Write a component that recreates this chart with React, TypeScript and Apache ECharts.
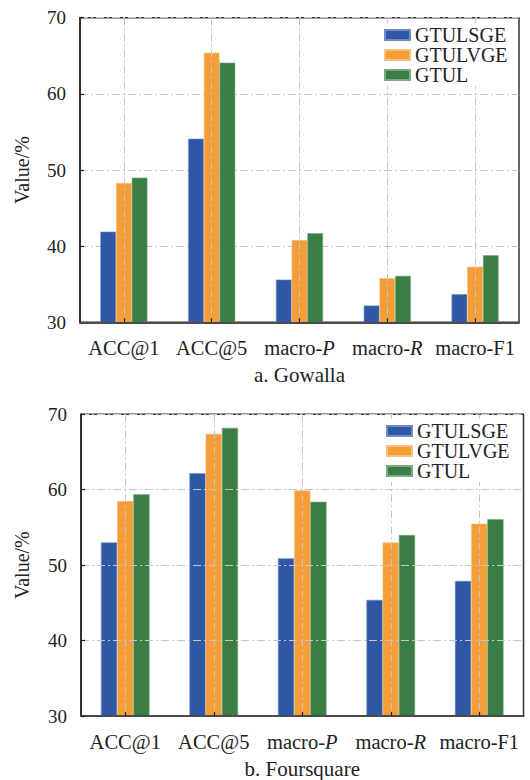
import React, { useEffect, useRef } from "react";
import * as echarts from "echarts";

const categories = ["ACC@1", "ACC@5", "macro-P", "macro-R", "macro-F1"];
const seriesNames = ["GTULSGE", "GTULVGE", "GTUL"];

const gowallaGTULSGE = [41.9, 54.1, 35.6, 32.2, 33.7];
const gowallaGTULVGE = [48.3, 65.4, 40.8, 35.8, 37.3];
const gowallaGTUL = [49.0, 64.1, 41.7, 36.1, 38.8];

const foursquareGTULSGE = [53.0, 62.2, 50.9, 45.4, 47.9];
const foursquareGTULVGE = [58.5, 67.4, 59.9, 53.0, 55.5];
const foursquareGTUL = [59.4, 68.2, 58.4, 54.0, 56.1];

const yMin = 30;
const yMax = 70;
const yInterval = 10;

const captions = ["a. Gowalla", "b. Foursquare"];
const yName = "Value/%";

const colors = ["#2e57a5", "#f59d37", "#3a7e46"];
const borderColors = ["#6f8cc6", "#f9c07e", "#7aab82"];
const FONT = "Liberation Serif";
const TEXT = "#222";

const gridStyle = {
  color: "#c6c6c6",
  width: 1,
  type: [8, 3, 2, 3] as any,
};

function catFormatter(v: string) {
  const m = /^macro-([PR])$/.exec(v);
  if (m) return "{r|macro-}{i|" + m[1] + "}";
  return "{r|" + v + "}";
}

export default function App() {
  const ref = useRef<HTMLDivElement>(null);
  useEffect(() => {
    if (!ref.current) return;
    const chart = echarts.init(ref.current, undefined, { renderer: "svg" });
    const grids = [
      { left: 80, right: 11, top: 17.7, height: 304.6, barW: 15.7, yGap: 48, capGap: 42.5, hAbove: false },
      { left: 81, right: 6.5, top: 414.3, height: 304, barW: 16.2, yGap: 49, capGap: 42, hAbove: true },
    ];
    const data = [
      [gowallaGTULSGE, gowallaGTULVGE, gowallaGTUL],
      [foursquareGTULSGE, foursquareGTULVGE, foursquareGTUL],
    ];
    const legendPos = [
      { left: 380, top: 23 },
      { left: 382, top: 419 },
    ];
    const option: any = {
      animation: false,
      textStyle: { fontFamily: FONT },
      grid: grids.map((g) => ({
        left: g.left,
        right: g.right,
        top: g.top,
        height: g.height,
        show: true,
        borderColor: "#333",
        borderWidth: 1.5,
        backgroundColor: "transparent",
      })),
      legend: legendPos.map((p) => ({
        data: seriesNames,
        left: p.left,
        top: p.top,
        orient: "vertical",
        itemWidth: 25,
        itemHeight: 10,
        itemGap: 0,
        icon: "rect",
        selectedMode: false,
        padding: [2, 4, 1, 4],
        backgroundColor: "#ffffff",
        textStyle: { fontFamily: FONT, fontSize: 20, lineHeight: 19, color: TEXT },
      })),
      xAxis: grids.map((g, i) => ({
        type: "category",
        gridIndex: i,
        data: categories,
        boundaryGap: true,
        z: 3,
        name: captions[i],
        nameLocation: "middle",
        nameGap: g.capGap,
        nameTextStyle: { fontFamily: FONT, fontSize: 21, color: TEXT },
        axisLine: { show: true, lineStyle: { color: "#4a4a4a", width: 2 } },
        axisTick: { show: true, inside: true, alignWithLabel: true, length: 4, lineStyle: { color: "#222", width: 1.2 } },
        axisLabel: {
          interval: 0,
          margin: 15,
          fontFamily: FONT,
          formatter: catFormatter,
          rich: {
            r: { fontFamily: FONT, fontSize: 20.5, color: TEXT },
            i: { fontFamily: FONT, fontSize: 20.5, color: TEXT, fontStyle: "italic" },
          },
        },
        splitLine: { show: true, interval: 0, alignWithLabel: true, lineStyle: gridStyle },
      })),
      yAxis: grids.map((g, i) => ({
        type: "value",
        gridIndex: i,
        min: yMin,
        max: yMax,
        interval: yInterval,
        z: g.hAbove ? 3 : 0,
        name: yName,
        nameLocation: "middle",
        nameGap: g.yGap,
        nameTextStyle: { fontFamily: FONT, fontSize: 20, color: TEXT },
        axisLine: { show: true, lineStyle: { color: "#222", width: 1.5 } },
        axisTick: { show: true, inside: true, length: 4, lineStyle: { color: "#222", width: 1.2 } },
        axisLabel: { margin: 14, fontFamily: FONT, fontSize: 19, color: TEXT },
        splitLine: { show: true, lineStyle: gridStyle },
      })),
      series: grids.flatMap((g, gi) =>
        seriesNames.map((name, si) => ({
          type: "bar",
          name,
          xAxisIndex: gi,
          yAxisIndex: gi,
          data: data[gi][si],
          barWidth: g.barW,
          barGap: "0%",
          itemStyle: { color: colors[si], borderColor: borderColors[si], borderWidth: 0.6 },
        }))
      ),
    };
    chart.setOption(option);
    return () => chart.dispose();
  }, []);
  return (
    <div
      ref={ref}
      style={{ position: "absolute", left: 0, top: 0, width: 530, height: 780, background: "#fff" }}
    />
  );
}
